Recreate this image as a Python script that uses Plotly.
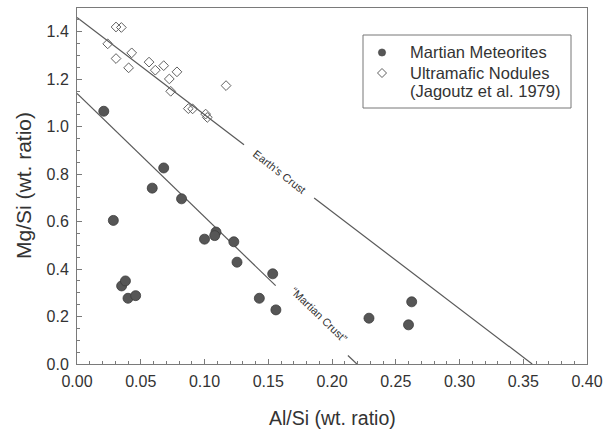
import plotly.graph_objects as go

# Martian meteorites (filled circles)
mars_al_si = [0.021, 0.068, 0.059, 0.082, 0.0285, 0.100, 0.109, 0.108, 0.123, 0.1255,
              0.1535, 0.143, 0.156, 0.035, 0.038, 0.040, 0.046, 0.2625, 0.229, 0.260]
mars_mg_si = [1.065, 0.826, 0.741, 0.696, 0.605, 0.526, 0.556, 0.541, 0.515, 0.429,
              0.380, 0.277, 0.228, 0.329, 0.350, 0.277, 0.288, 0.262, 0.193, 0.165]

# Ultramafic nodules (open diamonds)
nod_al_si = [0.0306, 0.0348, 0.0241, 0.0306, 0.0429, 0.0405, 0.0565, 0.0614, 0.068,
             0.0784, 0.0724, 0.0735, 0.0873, 0.0907, 0.1009, 0.1022, 0.1169]
nod_mg_si = [1.420, 1.418, 1.349, 1.287, 1.311, 1.248, 1.272, 1.238, 1.257,
             1.231, 1.201, 1.149, 1.076, 1.075, 1.053, 1.039, 1.173]

# Trend lines (segments broken for labels)
earth_x = [0.0, 0.131, None, 0.186, 0.357]
earth_y = [1.46, 0.924, None, 0.699, 0.0]
mars_line_x = [0.0, 0.1558, None, 0.2125, 0.2195]
mars_line_y = [1.14, 0.330, None, 0.036, 0.0]

x_ticks = [0.00, 0.05, 0.10, 0.15, 0.20, 0.25, 0.30, 0.35, 0.40]
y_ticks = [0.0, 0.2, 0.4, 0.6, 0.8, 1.0, 1.2, 1.4]

legend_labels = ["Martian Meteorites", "Ultramafic Nodules", "(Jagoutz et al. 1979)"]
x_title = "Al/Si (wt. ratio)"
y_title = "Mg/Si (wt. ratio)"

FONT = "Liberation Sans, Arial, sans-serif"
TXT = "#333333"
AX = "#7a7a7a"
CIRC = "#565656"
CIRC_LINE = "#3c3c3c"
DIAM = "#606060"

W, H = 604, 429
L, R, T, B = 77, 17, 8, 65
PW, PH = W - L - R, H - T - B


def px(xp):  # screen x -> paper x
    return (xp - L) / PW


def py(yp):  # screen y -> paper y
    return (H - B - yp) / PH


fig = go.Figure()

fig.add_trace(go.Scatter(x=earth_x, y=earth_y, mode="lines",
                         line=dict(color="#5a5a5a", width=1.2), showlegend=False,
                         hoverinfo="skip"))
fig.add_trace(go.Scatter(x=mars_line_x, y=mars_line_y, mode="lines",
                         line=dict(color="#5a5a5a", width=1.2), showlegend=False,
                         hoverinfo="skip"))

fig.add_trace(go.Scatter(x=nod_al_si, y=nod_mg_si, mode="markers", name=legend_labels[1],
                         marker=dict(symbol="diamond-open", size=7.5,
                                     color=DIAM, line=dict(width=1)),
                         showlegend=False))
fig.add_trace(go.Scatter(x=mars_al_si, y=mars_mg_si, mode="markers", name=legend_labels[0],
                         marker=dict(symbol="circle", size=10, color=CIRC,
                                     line=dict(color=CIRC_LINE, width=0.8)),
                         showlegend=False))

fig.add_annotation(x=0.159, y=0.81, text="Earth's Crust", showarrow=False,
                   textangle=38, font=dict(family=FONT, size=11, color=TXT))
fig.add_annotation(x=0.19, y=0.205, text="\u201cMartian Crust\u201d", showarrow=False,
                   textangle=44, font=dict(family=FONT, size=11, color=TXT))

# axis titles
fig.add_annotation(x=px(332), y=py(418), xref="paper", yref="paper", text=x_title,
                   showarrow=False, xanchor="center", yanchor="middle",
                   font=dict(family=FONT, size=19.5, color=TXT))
fig.add_annotation(x=px(23), y=py(186), xref="paper", yref="paper", text=y_title,
                   showarrow=False, xanchor="center", yanchor="middle", textangle=-90,
                   font=dict(family=FONT, size=21, color=TXT))

# legend box
fig.add_shape(type="rect", xref="paper", yref="paper",
              x0=px(363), x1=px(571), y0=py(108), y1=py(35),
              line=dict(color="#777777", width=1), fillcolor="rgba(0,0,0,0)")
# legend glyphs
fig.add_shape(type="circle", xref="paper", yref="paper",
              xsizemode="pixel", ysizemode="pixel",
              xanchor=px(382), yanchor=py(52.5),
              x0=-3.6, x1=3.6, y0=-3.6, y1=3.6,
              fillcolor=CIRC, line=dict(color=CIRC_LINE, width=0.6))
fig.add_shape(type="path", xref="paper", yref="paper",
              xsizemode="pixel", ysizemode="pixel",
              xanchor=px(382), yanchor=py(73),
              path="M -4.5 0 L 0 4.5 L 4.5 0 L 0 -4.5 Z",
              fillcolor="white", line=dict(color=DIAM, width=1))
# legend texts
for lbl, yy in zip(legend_labels, [52, 72.5, 91]):
    fig.add_annotation(x=px(408), y=py(yy), xref="paper", yref="paper",
                       text=lbl, showarrow=False, xanchor="left", yanchor="middle",
                       font=dict(family=FONT, size=16.5, color=TXT))

axis_common = dict(showline=True, linecolor=AX, linewidth=1, mirror=True,
                   ticks="inside", ticklen=5, tickcolor=AX, tickwidth=1,
                   showgrid=False, zeroline=False, automargin=False,
                   tickfont=dict(family=FONT, size=16, color=TXT))

fig.update_xaxes(range=[0, 0.4], tickvals=x_ticks, tickformat=".2f", ticklabelstandoff=3,
                 minor=dict(dtick=0.01, ticks="inside", ticklen=3, tickcolor=AX),
                 **axis_common)
fig.update_yaxes(range=[0, 1.5], tickvals=y_ticks, tickformat=".1f", ticklabelstandoff=4,
                 minor=dict(dtick=0.05, ticks="inside", ticklen=3, tickcolor=AX),
                 **axis_common)

fig.update_layout(
    width=W, height=H,
    margin=dict(l=L, r=R, t=T, b=B, autoexpand=False),
    paper_bgcolor="white", plot_bgcolor="white",
    font=dict(family=FONT, color=TXT),
    showlegend=False,
)

fig.write_html("out.html", config={"displayModeBar": False},
               post_script="document.body.style.margin='0';document.body.style.overflow='hidden';")
